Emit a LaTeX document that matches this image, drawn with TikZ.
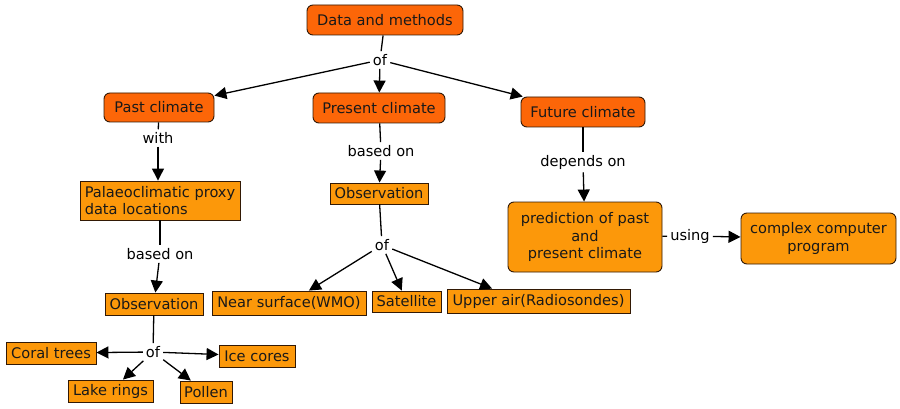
\documentclass[tikz,border=0pt]{standalone}
\usepackage{fontspec}
\setmainfont{DejaVu Sans}
\usetikzlibrary{arrows.meta}
\definecolor{darkor}{RGB}{252,102,8}
\definecolor{lightor}{RGB}{252,152,10}
\definecolor{edge}{RGB}{50,25,5}
\begin{document}
\begin{tikzpicture}[x=1pt,y=-1pt,
  font=\fontsize{14.6}{17.5}\selectfont,
  base/.style={draw=edge,line width=0.9pt,inner sep=0pt,text=black!90},
  dark/.style={base,fill=darkor,rounded corners=6pt},
  lightround/.style={base,fill=lightor,rounded corners=6pt},
  lightbox/.style={base,fill=lightor},
  sz/.style 2 args={minimum width=#1pt,minimum height=#2pt},
  lab/.style={inner sep=3pt,fill=white},
  conn/.style={line width=1.3pt,draw=black},
  arr/.style={conn,-{Triangle[length=12pt,width=12pt]}}
]
\useasboundingbox (0,0) rectangle (900,409);
% boxes
\node[dark,sz={156}{30}] (dm) at (385,20) {Data and methods};
\node[dark,sz={110}{29}] (past) at (159,107.5) {Past climate};
\node[dark,sz={132}{30}] (present) at (379,108) {Present climate};
\node[dark,sz={124}{30}] (future) at (583,112) {Future climate};
\node[lightbox,sz={160}{39},align=left] (palaeo) at (160,200.5) {Palaeoclimatic proxy\\data locations};
\node[lightbox,sz={98}{22}] (obsL) at (154,304) {Observation};
\node[lightbox,sz={90}{22}] (coral) at (51,353) {Coral trees};
\node[lightbox,sz={76}{22}] (ice) at (257,356) {Ice cores};
\node[lightbox,sz={85}{22}] (lake) at (110.5,391) {Lake rings};
\node[lightbox,sz={52}{22}] (pollen) at (206,392) {Pollen};
\node[lightbox,sz={98}{21}] (obsM) at (379,193.5) {Observation};
\node[lightbox,sz={154}{24}] (near) at (289,303) {Near surface(WMO)};
\node[lightbox,sz={69}{21}] (sat) at (406.5,301.5) {Satellite};
\node[lightbox,sz={183}{24}] (upper) at (538.5,301) {Upper air(Radiosondes)};
\node[lightround,sz={154}{70},align=center] (pred) at (585,237) {prediction of past\\and\\present climate};
\node[lightround,sz={155}{51},align=center] (comp) at (818.5,238.5) {complex computer\\program};
% labels
\node[lab] (of1) at (380,60) {of};
\node[lab] (with) at (158,138) {with};
\node[lab] (basedL) at (160,254) {based on};
\node[lab] (ofL) at (153,352) {of};
\node[lab] (basedM) at (381,151) {based on};
\node[lab] (ofM) at (382,245) {of};
\node[lab] (depends) at (583,162) {depends on};
\node[lab] (using) at (690,236) {using};
% connectors
\draw[conn] (dm) -- (of1);
\draw[arr] (of1) -- (past);
\draw[arr] (of1) -- (present);
\draw[arr] (of1) -- (future);
\draw[conn] (past) -- (with);
\draw[arr] (with) -- (with |- palaeo.north);
\draw[conn] (palaeo) -- (basedL);
\draw[arr] (basedL) -- (obsL);
\draw[conn] (obsL) -- (ofL);
\draw[arr] (ofL) -- (coral);
\draw[arr] (ofL) -- (ice);
\draw[arr] (ofL) -- (lake);
\draw[arr] (ofL) -- (pollen);
\draw[conn] (present) -- (basedM);
\draw[arr] (basedM) -- (obsM);
\draw[conn] (obsM) -- (ofM);
\draw[arr] (ofM) -- (near);
\draw[arr] (ofM) -- (sat);
\draw[arr] (ofM) -- (upper.165);
\draw[conn] (future) -- (depends);
\draw[arr] (depends) -- (pred);
\draw[conn] (pred) -- (using);
\draw[arr] (using) -- (comp);
\end{tikzpicture}
\end{document}
